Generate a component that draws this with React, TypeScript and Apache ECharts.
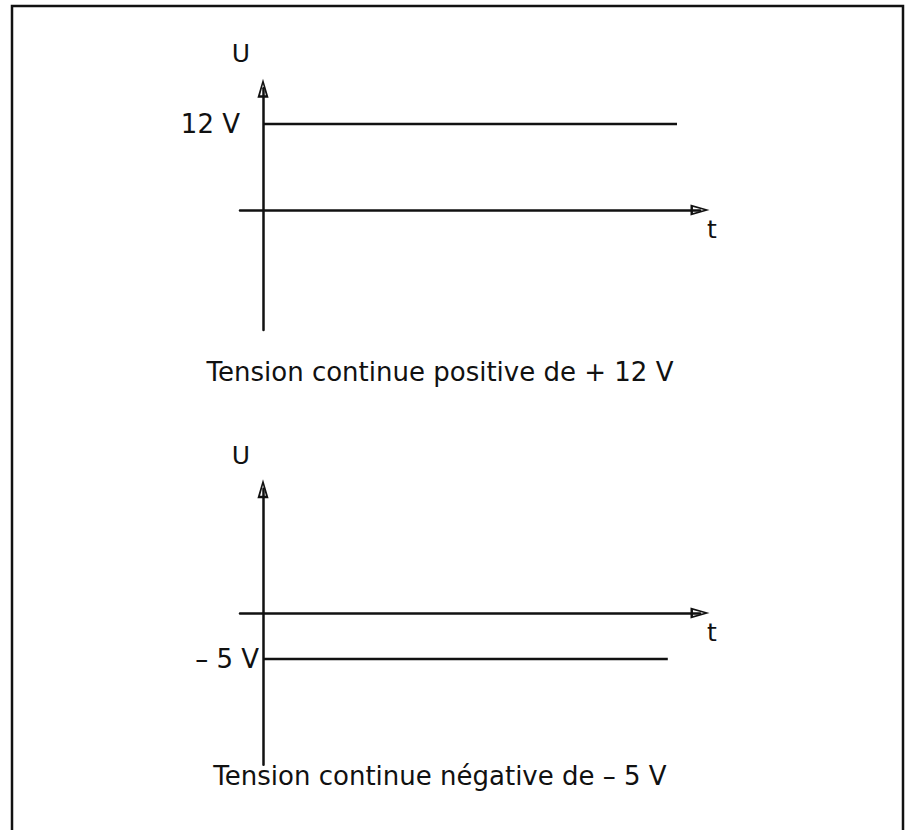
import React, { useEffect, useRef } from "react";
import * as echarts from "echarts";

// ---- data ----
const topTimes = [0, 18];
const topValues = [12, 12];
const bottomTimes = [0, 17.6];
const bottomValues = [-5, -5];
const topTickValues = [12];
const topTickLabels = ["12 V"];
const bottomTickValues = [-5];
const bottomTickLabels = ["\u2013 5 V"];
const yAxisName = "U";
const xAxisName = "t";
const captionTop = "Tension continue positive de + 12 V";
const captionBottom = "Tension continue n\u00e9gative de \u2013 5 V";

const INK = "#111";
const FONT = "DejaVu Sans";
const ARROW =
  "path://M5,0 L10,17 L0,17 Z M5,5 L2.4,14.8 L7.6,14.8 Z";

export default function App() {
  const ref = useRef<HTMLDivElement>(null);
  useEffect(() => {
    if (!ref.current) return;
    const chart = echarts.init(ref.current, undefined, { renderer: "svg" });

    const xAxisCommon = (gridIndex: number) => ({
      type: "value",
      gridIndex,
      min: -1,
      max: 19,
      splitLine: { show: false },
      axisTick: { show: false },
      axisLabel: { show: false },
      axisLine: {
        show: true,
        onZero: true,
        symbol: ["none", ARROW],
        symbolSize: [14, 19],
        lineStyle: { color: INK, width: 2.5 },
      },
      name: xAxisName,
      nameLocation: "end",
      nameGap: 12,
      nameTextStyle: {
        fontFamily: FONT,
        fontSize: 25,
        color: INK,
        align: "center",
        verticalAlign: "top",
        padding: [7, 0, 0, 0],
      },
    });

    const yAxisCommon = (
      gridIndex: number,
      min: number,
      max: number,
      vals: number[],
      labels: string[],
      margin: number,
      nameGap: number
    ) => ({
      type: "value",
      gridIndex,
      min,
      max,
      splitLine: { show: false },
      axisTick: { show: false },
      axisLabel: {
        show: true,
        customValues: vals,
        margin,
        fontFamily: FONT,
        fontSize: 26,
        color: INK,
        formatter: (v: number) => {
          const i = vals.indexOf(v);
          return i >= 0 ? labels[i] : "";
        },
      },
      axisLine: {
        show: true,
        onZero: true,
        symbol: ["none", ARROW],
        symbolSize: [14, 19],
        lineStyle: { color: INK, width: 2.5 },
      },
      name: yAxisName,
      nameLocation: "end",
      nameGap,
      nameTextStyle: {
        fontFamily: FONT,
        fontSize: 25,
        color: INK,
        align: "right",
        verticalAlign: "bottom",
        padding: [0, 13, 0, 0],
      },
    });

    chart.setOption({
      animation: false,
      backgroundColor: "#fff",
      grid: [
        { left: 240, width: 460, top: 88.2, height: 241.8, outerBoundsMode: "none", containLabel: false },
        { left: 240, width: 460, top: 488.8, height: 276, outerBoundsMode: "none", containLabel: false },
      ],
      xAxis: [xAxisCommon(0), xAxisCommon(1)],
      yAxis: [
        yAxisCommon(0, -16.75, 17, topTickValues, topTickLabels, 0, 22),
        yAxisCommon(1, -16.5, 13.5, bottomTickValues, bottomTickLabels, -19, 21),
      ],
      series: [
        {
          type: "line",
          xAxisIndex: 0,
          yAxisIndex: 0,
          data: topTimes.map((t, i) => [t, topValues[i]]),
          symbol: "none",
          lineStyle: { color: INK, width: 2.5 },
          silent: true,
        },
        {
          type: "line",
          xAxisIndex: 1,
          yAxisIndex: 1,
          data: bottomTimes.map((t, i) => [t, bottomValues[i]]),
          symbol: "none",
          lineStyle: { color: INK, width: 2.5 },
          silent: true,
        },
      ],
      graphic: [
        {
          type: "rect",
          shape: { x: 12, y: 6, width: 891, height: 840 },
          style: { fill: "none", stroke: INK, lineWidth: 2.5 },
          silent: true,
        },
        {
          type: "text",
          x: 440,
          y: 372,
          style: {
            text: captionTop,
            fontFamily: FONT,
            fontSize: 26,
            fill: INK,
            align: "center",
            verticalAlign: "middle",
          },
        },
        {
          type: "text",
          x: 440,
          y: 776,
          style: {
            text: captionBottom,
            fontFamily: FONT,
            fontSize: 26,
            fill: INK,
            align: "center",
            verticalAlign: "middle",
          },
        },
      ],
    });

    return () => chart.dispose();
  }, []);

  return (
    <div
      ref={ref}
      style={{ position: "absolute", left: 0, top: 0, width: 914, height: 830 }}
    />
  );
}
